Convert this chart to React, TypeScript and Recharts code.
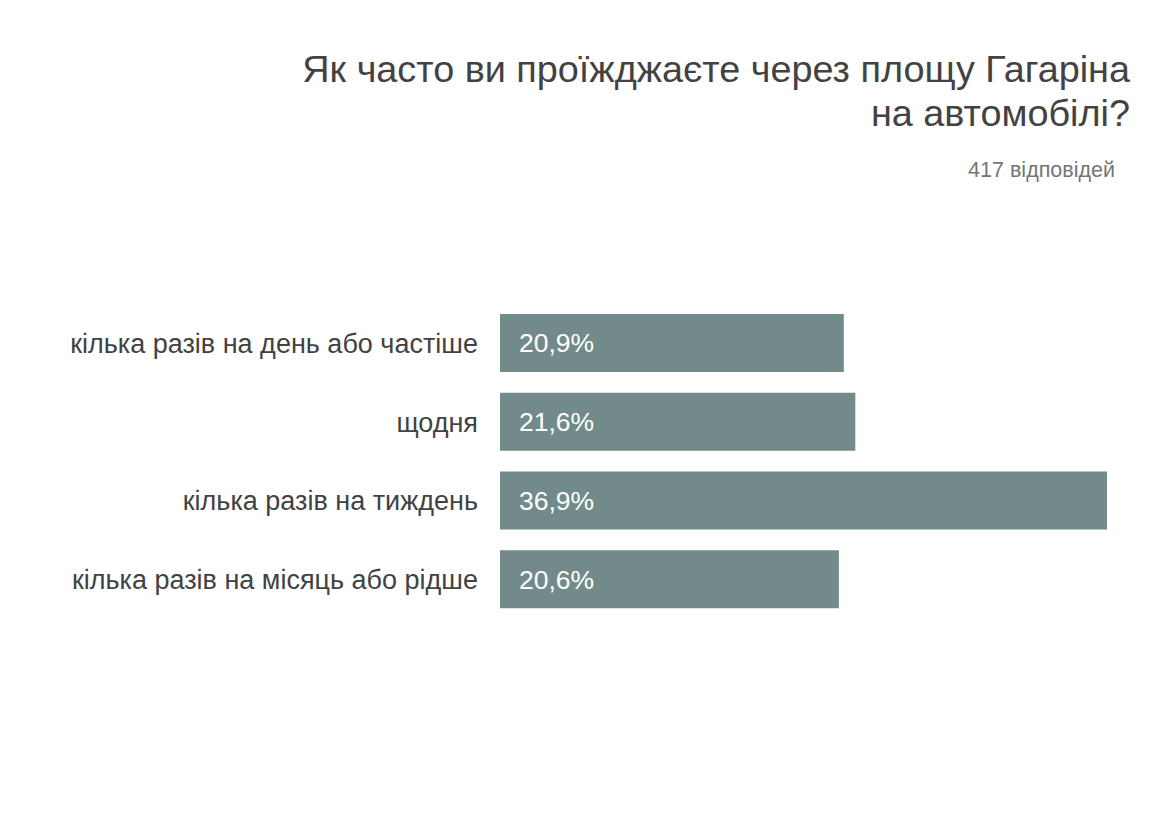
import React from 'react';
import { BarChart, Bar, XAxis, YAxis, LabelList } from 'recharts';

const categories = [
  'кілька разів на день або частіше',
  'щодня',
  'кілька разів на тиждень',
  'кілька разів на місяць або рідше',
];
const shares = [20.9, 21.6, 36.9, 20.6];

const titleLines = ['Як часто ви проїжджаєте через площу Гагаріна', 'на автомобілі?'];
const subtitle = '417 відповідей';

const data = categories.map((c, i) => ({ name: c, value: shares[i] }));

const FONT = '"Liberation Sans", Arial, Helvetica, sans-serif';

const fmt = (v: any) => `${Number(v).toFixed(1).replace('.', ',')}%`;

export default function App() {
  return (
    <div
      style={{
        position: 'absolute',
        left: 0,
        top: 0,
        width: 1169,
        height: 827,
        background: '#ffffff',
        fontFamily: FONT,
        overflow: 'hidden',
      }}
    >
      <div
        style={{
          position: 'absolute',
          right: 39,
          top: 47,
          textAlign: 'right',
          fontSize: 37.8,
          lineHeight: '44px',
          color: '#424242',
          whiteSpace: 'nowrap',
        }}
      >
        {titleLines.map((l) => (
          <div key={l}>{l}</div>
        ))}
      </div>
      <div
        style={{
          position: 'absolute',
          right: 54,
          top: 158,
          textAlign: 'right',
          fontSize: 21.5,
          lineHeight: '24px',
          color: '#757575',
          whiteSpace: 'nowrap',
        }}
      >
        {subtitle}
      </div>
      <BarChart
        width={1169}
        height={827}
        data={data}
        layout="vertical"
        margin={{ top: 304, right: 62, bottom: 208, left: 0 }}
        style={{ position: 'absolute', left: 0, top: 0 }}
      >
        <XAxis type="number" hide domain={[0, 'dataMax']} />
        <YAxis
          type="category"
          dataKey="name"
          width={500}
          axisLine={false}
          tickLine={false}
          tickSize={0}
          tickMargin={22}
          interval={0}
          tick={{ fill: '#424242', fontSize: 27, fontFamily: FONT }}
        />
        <Bar dataKey="value" fill="#728b8a" barSize={58} isAnimationActive={false}>
          <LabelList
            dataKey="value"
            position="insideLeft"
            offset={19}
            formatter={fmt}
            fill="#ffffff"
            style={{ fontSize: 26.5, fontFamily: FONT }}
          />
        </Bar>
      </BarChart>
    </div>
  );
}
